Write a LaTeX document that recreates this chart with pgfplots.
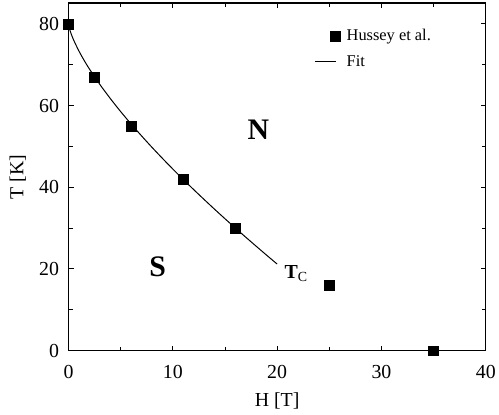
\documentclass[border=0pt]{standalone}
\usepackage{fontspec}
\setmainfont{Liberation Serif}
\usepackage{pgfplots}
\pgfplotsset{compat=1.18}
\pgfplotsset{
    squareleg/.style={legend image code/.code={\draw[##1] plot coordinates {(20pt,0pt)}; \path (0pt,0pt) (29pt,0pt);}},
    lineleg/.style={legend image code/.code={\draw[##1] (0pt,0pt) -- (21pt,0pt); \path (29pt,0pt);}},
}

\begin{document}
\begin{tikzpicture}
\begin{axis}[
    scale only axis,
    width=420pt, height=350pt,
    xmin=0, xmax=40, ymin=0, ymax=85.1,
    xtick={0,10,20,30,40}, ytick={0,20,40,60,80},
    minor xtick={5,15,25,35}, minor ytick={10,30,50,70},
    tick align=inside, tick pos=both,
    major tick length=5pt, minor tick length=4pt,
    every tick/.style={black, line width=1pt},
    axis line style={line width=1.3pt},
    /pgf/number format/assume math mode=true,
    tick label style={font=\fontsize{20}{23}\selectfont},
    xticklabel style={yshift=-11pt},
    yticklabel style={xshift=-6pt},
    label style={font=\fontsize{20}{23}\selectfont},
    xlabel={H [T]}, ylabel={T [K]},
    xlabel style={at={(axis description cs:0.5,0)}, anchor=center, yshift=-51pt},
    ylabel style={at={(axis description cs:0,0.5)}, anchor=center, yshift=51pt},
    clip=false,
    legend style={draw=none, fill=none, at={(0.59,0.93)}, anchor=north west,
        font=\fontsize{16.5}{19}\selectfont, row sep=9pt, inner sep=0pt,
        nodes={inner sep=2pt}},
    legend cell align=left,
]
\addplot[only marks, mark=square*, mark size=5pt, black, squareleg] coordinates {
    (0,80) (2.5,67) (6,55) (11,42) (16,30) (25,16) (35,0)
};
\addlegendentry{Hussey et al.}
\addplot[black, line width=1pt, smooth, lineleg] coordinates {
    (0,80) (0.02,79.61) (0.1,78.74) (0.25,77.56) (0.5,75.96) (1,73.32)
    (1.5,71.03) (2,68.95) (3,65.17) (4,61.73) (5,58.51) (6,55.47)
    (7,52.57) (8,49.77) (9,47.07) (10,44.45) (11,41.90) (12,39.42)
    (13,37.00) (14,34.62) (15,32.29) (16,30.00) (17,27.75) (18,25.54)
    (19,23.35) (20,21.20)
};
\addlegendentry{Fit}
\node[font=\fontsize{30}{34}\selectfont\bfseries] at (axis cs:18.2,54) {N};
\node[font=\fontsize{30}{34}\selectfont\bfseries] at (axis cs:8.55,20.6) {S};
\node[font=\fontsize{20}{23}\selectfont, anchor=base west, inner sep=0pt]
    at (axis cs:20.7,17.6) {\textbf{T}\textsubscript{C}};
\path (rel axis cs:0,0) ++(-69pt,-64pt);
\path (rel axis cs:1,1) ++(10pt,3pt);
\end{axis}
\end{tikzpicture}
\end{document}
